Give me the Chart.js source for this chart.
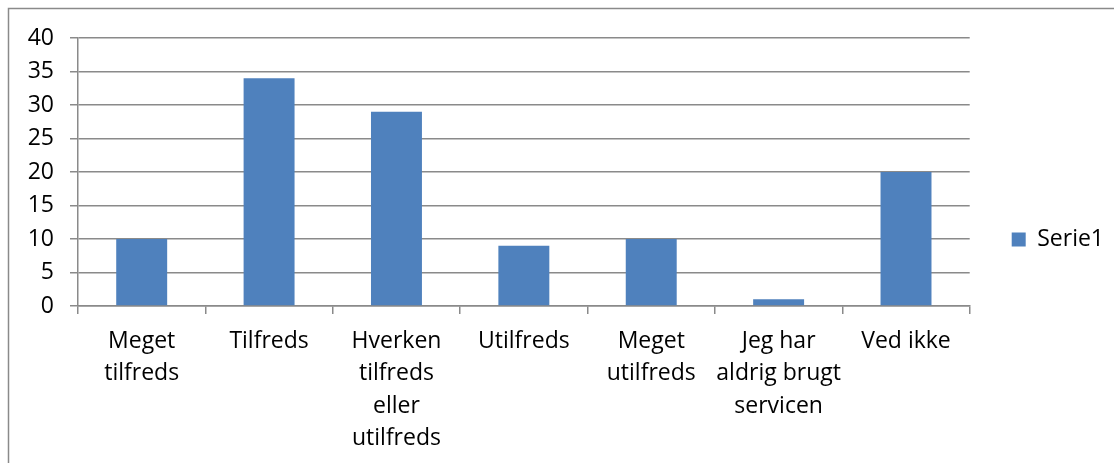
<!DOCTYPE html>
<html>
<head>
<meta charset="utf-8">
<script src="https://cdn.jsdelivr.net/npm/chart.js@4/dist/chart.umd.min.js"></script>
<style>
  body { margin: 0; background: #fff; }
</style>
</head>
<body>
<canvas id="chart" width="1114" height="463"></canvas>
<script>
const categories = [
  ["Meget", "tilfreds"],
  ["Tilfreds"],
  ["Hverken", "tilfreds", "eller", "utilfreds"],
  ["Utilfreds"],
  ["Meget", "utilfreds"],
  ["Jeg har", "aldrig brugt", "servicen"],
  ["Ved ikke"]
];
const serie1 = [10, 34, 29, 9, 10, 1, 20];
const yTicks = [0, 5, 10, 15, 20, 25, 30, 35, 40];

const gridColor = "#8a8a8a";
const fontFamily = "'Open Sans', sans-serif";

// grey frame round the whole chart
const framePlugin = {
  id: "frame",
  beforeDraw(chart) {
    const ctx = chart.ctx;
    ctx.save();
    ctx.strokeStyle = "#8a8a8a";
    ctx.lineWidth = 1.5;
    ctx.strokeRect(8.5, 8.5, 2000, 2000);
    ctx.restore();
  }
};

// the legend sits a bit above the middle of the right column
const legendShift = {
  id: "legendShift",
  afterLayout(chart) {
    const l = chart.legend;
    l.top -= 11;
    l.bottom -= 11;
  }
};

const ctx = document.getElementById("chart").getContext("2d");
new Chart(ctx, {
  type: "bar",
  data: {
    labels: categories,
    datasets: [
      {
        label: "Serie1",
        data: serie1,
        backgroundColor: "#4f81bd",
        borderWidth: 0,
        categoryPercentage: 1,
        barPercentage: 0.4
      }
    ]
  },
  options: {
    responsive: false,
    animation: false,
    layout: { padding: { top: 38, bottom: 0, left: 0, right: 0 } },
    plugins: {
      tooltip: { enabled: false },
      legend: {
        position: "right",
        maxWidth: 146,
        labels: {
          boxWidth: 14,
          boxHeight: 14,
          padding: 42,
          color: "#000",
          font: { family: fontFamily, size: 23 }
        }
      }
    },
    scales: {
      x: {
        grid: {
          offset: true,
          drawOnChartArea: false,
          drawTicks: true,
          tickLength: 8,
          color: gridColor,
          lineWidth: 1.5
        },
        border: { color: gridColor, width: 1.5 },
        ticks: {
          color: "#000",
          padding: 11,
          maxRotation: 0,
          autoSkip: false,
          font: { family: fontFamily, size: 23, lineHeight: "32.5px" }
        },
        afterFit(scale) {
          scale.height = 157;
        }
      },
      y: {
        min: 0,
        max: 40,
        afterBuildTicks(scale) {
          scale.ticks = yTicks.map((v) => ({ value: v }));
        },
        grid: {
          drawTicks: true,
          tickLength: 8,
          color: gridColor,
          lineWidth: 1.5
        },
        border: { color: gridColor, width: 1.5 },
        ticks: {
          color: "#000",
          padding: 16,
          font: { family: fontFamily, size: 23 }
        },
        afterFit(scale) {
          scale.width = 78;
        }
      }
    }
  },
  plugins: [framePlugin, legendShift]
});
</script>
</body>
</html>
